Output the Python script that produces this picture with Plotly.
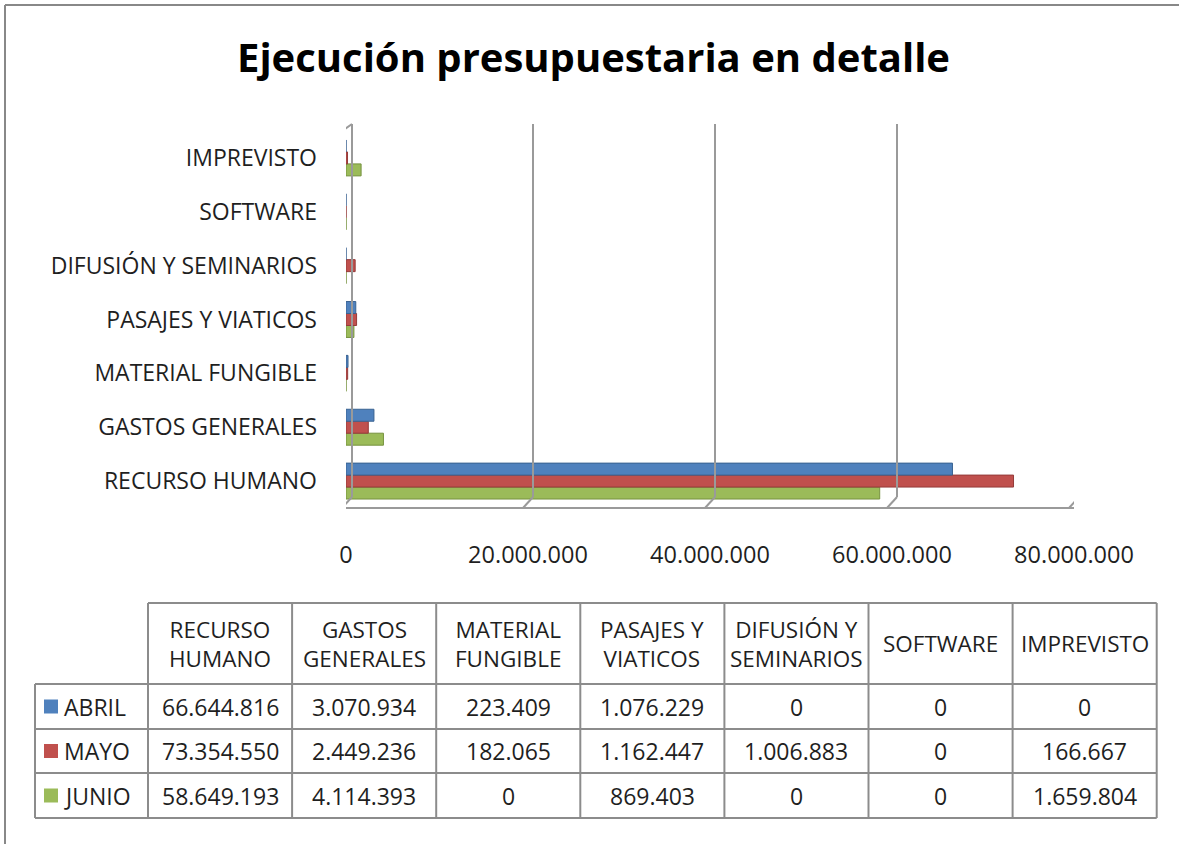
import plotly.graph_objects as go

# ---------------- data ----------------
categories = ["RECURSO HUMANO", "GASTOS GENERALES", "MATERIAL FUNGIBLE",
              "PASAJES Y VIATICOS", "DIFUSIÓN Y SEMINARIOS", "SOFTWARE", "IMPREVISTO"]
series_names = ["ABRIL", "MAYO", "JUNIO"]
abril = [66644816, 3070934, 223409, 1076229, 0, 0, 0]
mayo = [73354550, 2449236, 182065, 1162447, 1006883, 0, 166667]
junio = [58649193, 4114393, 0, 869403, 0, 0, 1659804]
tick_values = [0, 20000000, 40000000, 60000000, 80000000]
tick_labels = ["0", "20.000.000", "40.000.000", "60.000.000", "80.000.000"]
title_text = "Ejecución presupuestaria en detalle"

series_values = [abril, mayo, junio]
colors = ["#4F81BD", "#C0504D", "#9BBB59"]
edges = ["#3A6391", "#943B39", "#76923F"]

W, H = 1179, 844
FONT = "Open Sans"
TXT = "#1f1f1f"
FRAME = "#9a9a9a"


def px(x):
    return x / W


def py(y):
    return 1 - y / H


def fmt(v):
    return f"{v:,}".replace(",", ".")


def wrap(label):
    parts = label.rsplit(" ", 1)
    return "<br>".join(parts) if len(parts) > 1 else label


fig = go.Figure()
for i in reversed(range(len(series_names))):
    fig.add_trace(go.Bar(
        y=categories, x=series_values[i], orientation="h", name=series_names[i],
        marker=dict(color=colors[i], line=dict(color=edges[i], width=1)),
        showlegend=False, hoverinfo="x+y+name",
    ))

shapes = []
# 3D-like back wall gridlines and floor
for v in tick_values[1:]:
    shapes.append(dict(type="line", xref="x", xsizemode="pixel", xanchor=v, x0=5, x1=5,
                       yref="paper", y0=py(497), y1=py(124), line=dict(color=FRAME, width=2)))
    shapes.append(dict(type="line", xref="x", xsizemode="pixel", xanchor=v, x0=5, x1=-5,
                       yref="paper", y0=py(497), y1=py(508), line=dict(color=FRAME, width=2)))
# left wall
v0 = tick_values[0]
for (a, ya, b, yb) in [(-4, 131, -4, 508), (6, 124, 6, 497), (-4, 131, 6, 124), (-4, 508, 6, 497)]:
    shapes.append(dict(type="line", xref="x", xsizemode="pixel", xanchor=v0, x0=a, x1=b,
                       yref="paper", y0=py(ya), y1=py(yb), line=dict(color=FRAME, width=2)))
# floor front edge
shapes.append(dict(type="line", xref="x", x0=tick_values[0], x1=tick_values[-1],
                   yref="paper", y0=py(508), y1=py(508), line=dict(color=FRAME, width=2)))

# outer chart border (top and left visible)
shapes.append(dict(type="line", xref="paper", yref="paper", x0=px(5), x1=px(W), y0=py(5), y1=py(5),
                   line=dict(color="#888888", width=2)))
shapes.append(dict(type="line", xref="paper", yref="paper", x0=px(5), x1=px(5), y0=py(5), y1=py(H),
                   line=dict(color="#888888", width=2)))

# ---------------- data table ----------------
col_x = [35, 148] + [148 + 144.1 * (k + 1) for k in range(len(categories))]
row_y = [603, 684, 729, 773, 818]
TL = dict(color="#8c8c8c", width=2)
shapes.append(dict(type="line", xref="paper", yref="paper", x0=px(col_x[1]), x1=px(col_x[-1]),
                   y0=py(row_y[0]), y1=py(row_y[0]), line=TL))
for yy in row_y[1:]:
    shapes.append(dict(type="line", xref="paper", yref="paper", x0=px(col_x[0]), x1=px(col_x[-1]),
                       y0=py(yy), y1=py(yy), line=TL))
shapes.append(dict(type="line", xref="paper", yref="paper", x0=px(col_x[0]), x1=px(col_x[0]),
                   y0=py(row_y[1]), y1=py(row_y[-1]), line=TL))
for xx in col_x[1:]:
    shapes.append(dict(type="line", xref="paper", yref="paper", x0=px(xx), x1=px(xx),
                       y0=py(row_y[0]), y1=py(row_y[-1]), line=TL))

annotations = []
tfont = dict(family=FONT, size=23, color=TXT)
hfont = dict(family=FONT, size=22.5, color=TXT)
for j, cat in enumerate(categories):
    cx = (col_x[j + 1] + col_x[j + 2]) / 2
    annotations.append(dict(xref="paper", yref="paper", x=px(cx), y=py((row_y[0] + row_y[1]) / 2),
                            text=wrap(cat), showarrow=False, font=hfont, xanchor="center",
                            yanchor="middle", align="center"))
for i, name in enumerate(series_names):
    cy = (row_y[i + 1] + row_y[i + 2]) / 2
    shapes.append(dict(type="rect", xref="paper", yref="paper", x0=px(44), x1=px(58),
                       y0=py(cy - 7), y1=py(cy + 7), fillcolor=colors[i], line=dict(width=0)))
    annotations.append(dict(xref="paper", yref="paper", x=px(62), y=py(cy), text=name,
                            showarrow=False, font=tfont, xanchor="left", yanchor="middle"))
    for j, v in enumerate(series_values[i]):
        cx = (col_x[j + 1] + col_x[j + 2]) / 2
        annotations.append(dict(xref="paper", yref="paper", x=px(cx), y=py(cy), text=fmt(v),
                                showarrow=False, font=tfont, xanchor="center", yanchor="middle"))

# title
annotations.append(dict(xref="paper", yref="paper", x=px(594), y=py(56), text=f"<b>{title_text}</b>",
                        showarrow=False, font=dict(family=FONT, size=40, color="#000000"),
                        xanchor="center", yanchor="middle"))

fig.update_layout(
    width=W, height=H, margin=dict(l=0, r=0, t=0, b=0, pad=0), autosize=False,
    paper_bgcolor="white", plot_bgcolor="rgba(0,0,0,0)",
    barmode="group", bargap=0.333, bargroupgap=0,
    font=dict(family=FONT, color=TXT),
    xaxis=dict(domain=[px(346), px(1074)], range=[tick_values[0], tick_values[-1]],
               tickvals=tick_values, ticktext=tick_labels, showgrid=False, zeroline=False,
               showline=False, ticks="", ticklabelstandoff=30, automargin=False,
               tickfont=dict(family=FONT, size=23.5, color=TXT), fixedrange=True),
    yaxis=dict(domain=[py(508), py(131)], categoryorder="array", categoryarray=categories,
               showgrid=False, zeroline=False, showline=False, ticks="", ticklabelstandoff=28,
               automargin=False, tickfont=dict(family=FONT, size=23, color=TXT), fixedrange=True),
    shapes=shapes, annotations=annotations,
)

post = ("document.documentElement.style.margin='0';document.body.style.margin='0';"
        "document.documentElement.style.overflow='hidden';document.body.style.overflow='hidden';")
fig.write_html("out.html", post_script=post, config={"responsive": False, "displayModeBar": False})
